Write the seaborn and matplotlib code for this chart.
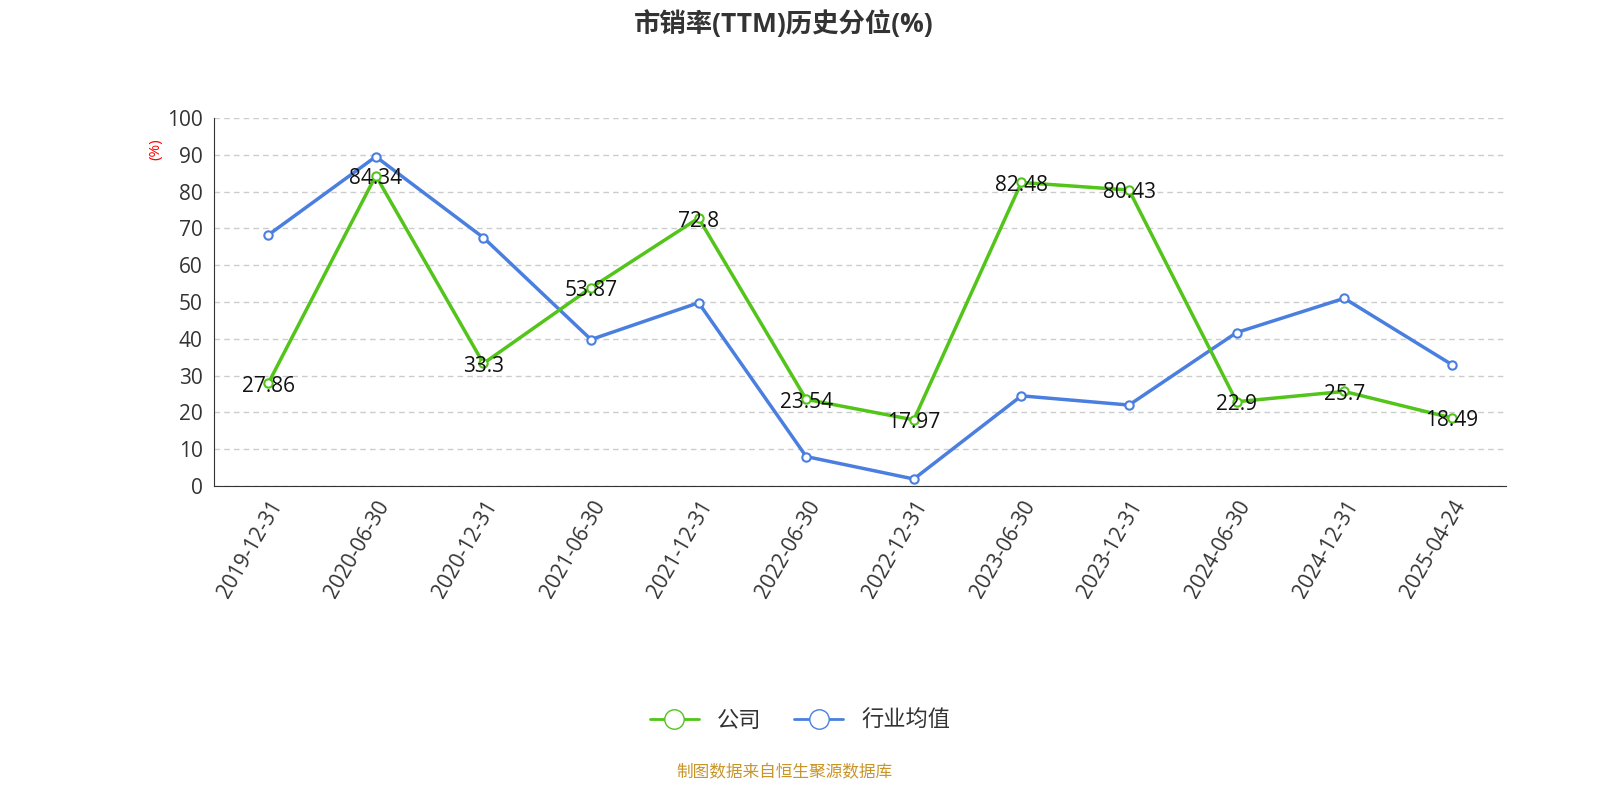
import numpy as np
import pandas as pd
import matplotlib
matplotlib.use("Agg")
import matplotlib.pyplot as plt
import seaborn as sns
from matplotlib.lines import Line2D

dates = ["2019-12-31", "2020-06-30", "2020-12-31", "2021-06-30", "2021-12-31", "2022-06-30",
         "2022-12-31", "2023-06-30", "2023-12-31", "2024-06-30", "2024-12-31", "2025-04-24"]
company = [27.86, 84.34, 33.3, 53.87, 72.8, 23.54, 17.97, 82.48, 80.43, 22.9, 25.7, 18.49]
industry = [68.2, 89.5, 67.5, 39.8, 49.8, 8.0, 1.9, 24.5, 22.0, 41.7, 51.0, 33.0]

sns.set_style("white")
plt.rcParams['font.family'] = ['Open Sans', 'Noto Sans CJK SC', 'DejaVu Sans']

green = "#52c41a"
blue = "#4a7fe0"

df = pd.DataFrame({"x": np.arange(len(dates)), "公司": company, "行业均值": industry})

fig = plt.figure(figsize=(16, 8), dpi=100)
ax = fig.add_axes([0.134, 0.3925, 0.807, 0.46])

for col, c in [("行业均值", blue), ("公司", green)]:
    sns.lineplot(data=df, x="x", y=col, ax=ax, color=c, lw=2.5, marker="o",
                 markersize=6, markerfacecolor="white", markeredgecolor=c,
                 markeredgewidth=1.5, legend=False)

for i, v in enumerate(company):
    ax.text(i, v - 0.8, f"{v:g}", ha="center", va="center", fontsize=15, color="#111111")

ax.set_xlim(-0.5, len(dates) - 0.5)
ax.set_ylim(0, 100)
ax.set_yticks(range(0, 101, 10))
ax.tick_params(axis="y", labelsize=15, labelcolor="#333333", length=5, color="#333333")
ax.yaxis.grid(True, ls=(0, (4, 3)), color="#cccccc", lw=1)
ax.set_xticks(np.arange(-0.5, len(dates), 1.0))
ax.set_xticklabels([])
ax.set_xticks(np.arange(len(dates)), minor=True)
ax.set_xticklabels(dates, minor=True, rotation=60, ha="right", rotation_mode="anchor",
                   fontsize=15, color="#333333")
ax.tick_params(axis="x", which="major", length=6, color="#333333")
ax.tick_params(axis="x", which="minor", length=0, pad=8)
ax.set_xlabel("")
ax.set_ylabel("")
for s in ["top", "right"]:
    ax.spines[s].set_visible(False)
for s in ["left", "bottom"]:
    ax.spines[s].set_color("#333333")
ax.text(-0.045, 0.915, "(%)", transform=ax.transAxes, rotation=90, color="red",
        fontsize=11, ha="center", va="center")

fig.text(0.49, 0.97, "市销率(TTM)历史分位(%)", ha="center", va="center",
         fontsize=19, fontweight="bold", color="#333333")

handles = [Line2D([], [], color=green, lw=2, marker="o", markersize=14,
                  markerfacecolor="white", markeredgecolor=green),
           Line2D([], [], color=blue, lw=2, marker="o", markersize=14,
                  markerfacecolor="white", markeredgecolor=blue)]
fig.legend(handles, ["公司", "行业均值"], loc="center", bbox_to_anchor=(0.5, 0.098),
           ncol=2, frameon=False, fontsize=16, handlelength=2.2, columnspacing=1.5,
           labelcolor="#333333")
fig.text(0.49, 0.033, "制图数据来自恒生聚源数据库", ha="center", va="center",
         fontsize=12, color="#c8952a")

fig.savefig("out.png")
